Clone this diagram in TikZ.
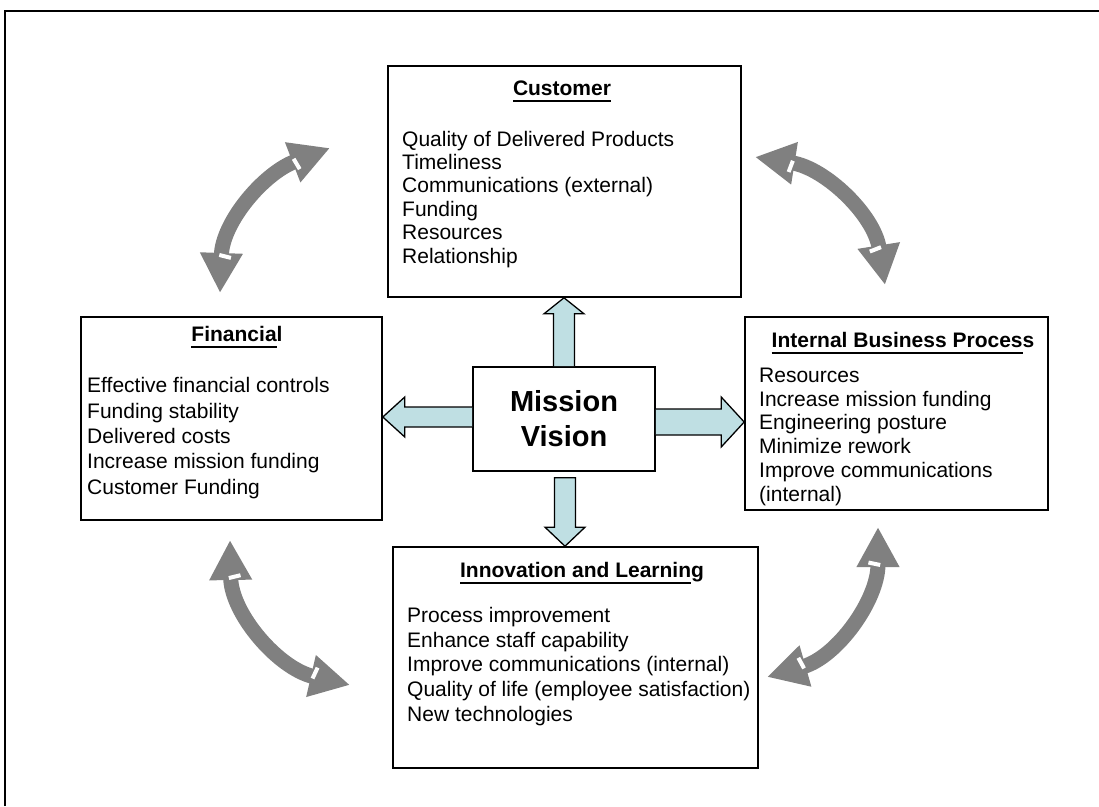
\documentclass[tikz,border=0pt]{standalone}
\usepackage{fontspec}
\setmainfont{Liberation Sans}
\usetikzlibrary{calc, arrows.meta, decorations.markings}

\definecolor{mvblue}{RGB}{191,223,227}
\definecolor{arrgray}{RGB}{128,128,128}

% underlined heading, rule a bit below the baseline
\newcommand{\ttlline}[1]{\setbox0\hbox{#1}\rlap{\rule[-7pt]{\wd0}{1.8pt}}\box0}

\tikzset{
  box/.style = {draw, line width=1.6pt, inner sep=0pt},
  ttl/.style = {anchor=base, inner sep=0pt, font=\fontsize{21}{24}\selectfont\bfseries},
  % lists are placed by the baseline of their last line
  items/.style = {anchor=base west, inner sep=0pt, align=left, font=\fontsize{21}{23.6}\selectfont},
  bluearr/.style = {draw, fill=mvblue, line width=1.3pt, line join=miter},
  grayarr/.style = {draw=arrgray, line width=15pt,
    arrows={Triangle[length=40pt,width=40pt]-Triangle[length=40pt,width=40pt]},
    postaction={decorate, decoration={markings,
      mark=at position 37pt with {\fill[white] (-2pt,-6pt) rectangle (2pt,6pt);},
      mark=at position -37pt with {\fill[white] (-2pt,-6pt) rectangle (2pt,6pt);}}}}
}

\begin{document}
\begin{tikzpicture}[x=1pt, y=1pt]
\useasboundingbox (0,0) rectangle (1099,-806);
\draw[line width=2pt] (5,-806) -- (5,-11) -- (1099,-11);

% the five boxes
\node[box, minimum width=353pt, minimum height=231pt] (cust) at (564.5,-181.5) {};
\node[box, minimum width=301pt, minimum height=203pt] (fin) at (231.5,-418.5) {};
\node[box, minimum width=303pt, minimum height=193pt] (ibp) at (896.5,-413.5) {};
\node[box, minimum width=365pt, minimum height=221pt] (inno) at (575.5,-657.5) {};
\node[box, minimum width=182pt, minimum height=104pt, align=center,
  font=\fontsize{29}{35}\selectfont\bfseries] (mv) at (564,-419) {Mission\\Vision};

% headings and lists
\node[ttl] (custt) at (562,-95) {\ttlline{Customer}};
\node[items, font=\fontsize{21}{23.4}\selectfont] (custl) at (402,-263) {Quality of Delivered Products\\Timeliness\\Communications (external)\\Funding\\Resources\\Relationship};
\node[ttl] (fint) at (237,-341) {\ttlline{Financia}l};
\node[items, font=\fontsize{21}{25.3}\selectfont] (finl) at (87,-494) {Effective financial controls\\Funding stability\\Delivered costs\\Increase mission funding\\Customer Funding};
\node[ttl] (ibpt) at (903,-347) {\ttlline{Internal Business Proces}s};
\node[items, font=\fontsize{21}{23.7}\selectfont] (ibpl) at (759,-501) {Resources\\Increase mission funding\\Engineering posture\\Minimize rework\\Improve communications\\(internal)};
\node[ttl] (innot) at (582,-577) {\ttlline{Innovation and Learnin}g};
\node[items, font=\fontsize{21}{24.6}\selectfont] (innol) at (407,-721) {Process improvement\\Enhance staff capability\\Improve communications (internal)\\Quality of life (employee satisfaction)\\New technologies};

% block arrows out of the centre
\coordinate (upt) at (mv.north |- cust.south);
\draw[bluearr] ($(mv.north)+(-10.5,0)$) -- ($(upt)+(-10.5,-16)$) -- ($(upt)+(-20,-16)$) -- (upt)
  -- ($(upt)+(20,-16)$) -- ($(upt)+(10.5,-16)$) -- ($(mv.north)+(10.5,0)$);
\coordinate (lc) at ($(mv.west)+(0,2)$);
\coordinate (lt) at (fin.east |- lc);
\draw[bluearr] ($(lc)+(0,-10)$) -- ($(lt)+(22,-10)$) -- ($(lt)+(22,-20)$) -- (lt)
  -- ($(lt)+(22,20)$) -- ($(lt)+(22,10)$) -- ($(lc)+(0,10)$);
\coordinate (rc) at ($(mv.east)+(0,-3)$);
\coordinate (rt) at (ibp.west |- rc);
\draw[bluearr] ($(rc)+(0,-13)$) -- ($(rt)+(-23,-13)$) -- ($(rt)+(-23,-25)$) -- (rt)
  -- ($(rt)+(-23,25)$) -- ($(rt)+(-23,13)$) -- ($(rc)+(0,13)$);
\coordinate (dc) at ($(mv.south)+(1,-6)$);
\coordinate (dt) at (dc |- inno.north);
\draw[bluearr] ($(dc)+(-10.5,0)$) -- ($(dt)+(-10.5,19)$) -- ($(dt)+(-20,19)$) -- (dt)
  -- ($(dt)+(20,19)$) -- ($(dt)+(10.5,19)$) -- ($(dc)+(10.5,0)$) -- cycle;

% curved two-way arrows in the corners
\coordinate (tla) at (220,-293);
\coordinate (tlb) at (330,-148);
\draw[grayarr] (tla) to[out=88,in=201] (tlb);
\coordinate (tra) at (755,-157);
\coordinate (trb) at (885,-285);
\draw[grayarr] (tra) to[out=-9,in=99] (trb);
\coordinate (bla) at (230,-540);
\coordinate (blb) at (350,-685);
\draw[grayarr] (bla) to[out=-89,in=167] (blb);
\coordinate (bra) at (878,-527);
\coordinate (brb) at (767,-677);
\draw[grayarr] (bra) to[out=-90,in=16] (brb);
\end{tikzpicture}
\end{document}
